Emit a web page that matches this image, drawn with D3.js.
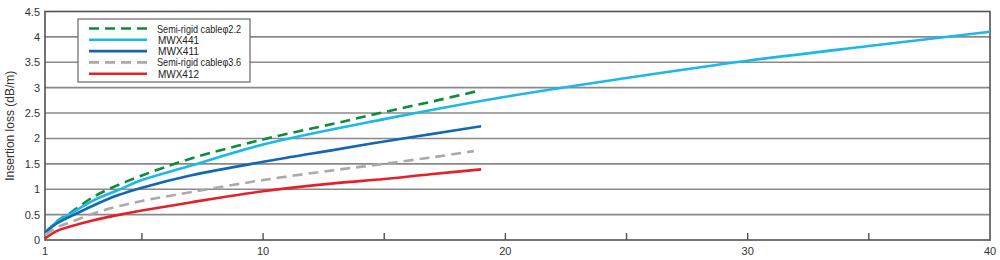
<!DOCTYPE html>
<html>
<head>
<meta charset="utf-8">
<script src="https://cdn.jsdelivr.net/npm/d3@7"></script>
<style>
  body { margin: 0; background: #fff; }
  text { font-family: "Liberation Sans", Arial, sans-serif; }
</style>
</head>
<body>
<div id="vis"></div>
<script>
// frequency points (x) and insertion loss values (dB/m)
const freqShort = [1, 1.5, 2, 3, 4, 5, 7, 10, 13, 15, 17, 19];
const freqGray = [1, 1.5, 2, 3, 4, 5, 7, 10, 13, 15, 17, 18.7];
const freqLong = [1, 1.5, 2, 3, 4, 5, 7, 10, 15, 20, 25, 30, 35, 40];
const semiRigid22 = [0.12, 0.37, 0.52, 0.85, 1.08, 1.27, 1.6, 1.98, 2.3, 2.52, 2.73, 2.95];
const mwx441 = [0.15, 0.36, 0.5, 0.78, 0.98, 1.18, 1.46, 1.88, 2.38, 2.82, 3.19, 3.53, 3.82, 4.1];
const mwx411 = [0.15, 0.33, 0.45, 0.68, 0.88, 1.03, 1.27, 1.54, 1.78, 1.94, 2.09, 2.24];
const semiRigid36 = [0.1, 0.25, 0.34, 0.52, 0.66, 0.77, 0.94, 1.18, 1.38, 1.5, 1.63, 1.75];
const mwx412 = [0.03, 0.18, 0.26, 0.39, 0.49, 0.58, 0.74, 0.96, 1.12, 1.2, 1.3, 1.39];

const xTicks = [1, 5, 10, 15, 20, 25, 30, 35, 40];
const xLabels = [1, 10, 20, 30, 40];
const yTicks = [0, 0.5, 1, 1.5, 2, 2.5, 3, 3.5, 4, 4.5];

const series = [
  {name: 'Semi-rigid cable\u03c62.2', x: freqShort, y: semiRigid22, color: '#0b8b3e', dash: '10,6', small: true},
  {name: 'MWX441', x: freqLong, y: mwx441, color: '#1bb8ea', dash: null},
  {name: 'MWX411', x: freqShort, y: mwx411, color: '#1467b3', dash: null},
  {name: 'Semi-rigid cable\u03c63.6', x: freqGray, y: semiRigid36, color: '#aaaaaa', dash: '10,6', small: true},
  {name: 'MWX412', x: freqShort, y: mwx412, color: '#e6202a', dash: null}
];

const width = 1000, height = 260;
const margin = {top: 11.5, right: 10, bottom: 20, left: 45};

const svg = d3.select('#vis').append('svg')
  .attr('width', width)
  .attr('height', height);

const xScale = d3.scaleLinear().domain([1, 40]).range([margin.left, width - margin.right]);
const yScale = d3.scaleLinear().domain([0, 4.5]).range([height - margin.bottom, margin.top]);

// gridlines
svg.selectAll('line.grid')
  .data(yTicks.slice(1, -1))
  .enter()
  .append('line')
  .attr('class', 'grid')
  .attr('x1', xScale(1))
  .attr('x2', xScale(40))
  .attr('y1', d => yScale(d))
  .attr('y2', d => yScale(d))
  .attr('stroke', '#8c8888')
  .attr('stroke-width', 1.6);

// frame
svg.append('rect')
  .attr('x', xScale(1))
  .attr('y', yScale(4.5))
  .attr('width', xScale(40) - xScale(1))
  .attr('height', yScale(0) - yScale(4.5))
  .attr('fill', 'none')
  .attr('stroke', '#555050')
  .attr('stroke-width', 1.6);

// x ticks pointing inward
svg.selectAll('line.xtick')
  .data(xTicks.slice(1, -1))
  .enter()
  .append('line')
  .attr('class', 'xtick')
  .attr('x1', d => xScale(d))
  .attr('x2', d => xScale(d))
  .attr('y1', yScale(0))
  .attr('y2', yScale(0) - 7)
  .attr('stroke', '#555050')
  .attr('stroke-width', 1.4);

svg.selectAll('text.xlab')
  .data(xLabels)
  .enter()
  .append('text')
  .attr('class', 'xlab')
  .attr('x', d => xScale(d))
  .attr('y', yScale(0) + 15)
  .attr('text-anchor', 'middle')
  .style('font-size', '11px')
  .style('fill', '#333')
  .text(d => d);

svg.selectAll('text.ylab')
  .data(yTicks)
  .enter()
  .append('text')
  .attr('class', 'ylab')
  .attr('x', margin.left - 5)
  .attr('y', d => yScale(d) + 4)
  .attr('text-anchor', 'end')
  .style('font-size', '11px')
  .style('fill', '#333')
  .text(d => d);

svg.append('text')
  .attr('transform', 'translate(14,' + ((yScale(0) + yScale(4.5)) / 2) + ') rotate(-90)')
  .attr('text-anchor', 'middle')
  .style('font-size', '12px')
  .style('fill', '#333')
  .text('Insertion loss (dB/m)');

// curves
const line = d3.line()
  .x(d => xScale(d[0]))
  .y(d => yScale(d[1]))
  .curve(d3.curveCatmullRom.alpha(0.5));

svg.selectAll('path.curve')
  .data(series)
  .enter()
  .append('path')
  .attr('class', 'curve')
  .attr('d', s => line(s.x.map((f, i) => [f, s.y[i]])))
  .attr('fill', 'none')
  .attr('stroke', s => s.color)
  .attr('stroke-width', 2.6)
  .attr('stroke-dasharray', s => s.dash);

// legend
const lg = svg.append('g').attr('transform', 'translate(78,19)');
lg.append('rect')
  .attr('width', 172)
  .attr('height', 63)
  .attr('fill', '#fff')
  .attr('stroke', '#666')
  .attr('stroke-width', 1.2);

const items = lg.selectAll('g.item')
  .data(series)
  .enter()
  .append('g')
  .attr('class', 'item')
  .attr('transform', (d, i) => 'translate(0,' + (9.5 + i * 11.3) + ')');

items.append('line')
  .attr('x1', 11)
  .attr('x2', 69)
  .attr('stroke', d => d.color)
  .attr('stroke-width', 2.6)
  .attr('stroke-dasharray', d => d.dash);

items.append('text')
  .attr('x', d => d.small ? 79 : 80)
  .attr('y', 4)
  .attr('textLength', d => d.small ? 84 : 41)
  .attr('lengthAdjust', 'spacingAndGlyphs')
  .style('font-size', d => d.small ? '10.5px' : '11.5px')
  .style('fill', '#222')
  .text(d => d.name);
</script>
</body>
</html>
